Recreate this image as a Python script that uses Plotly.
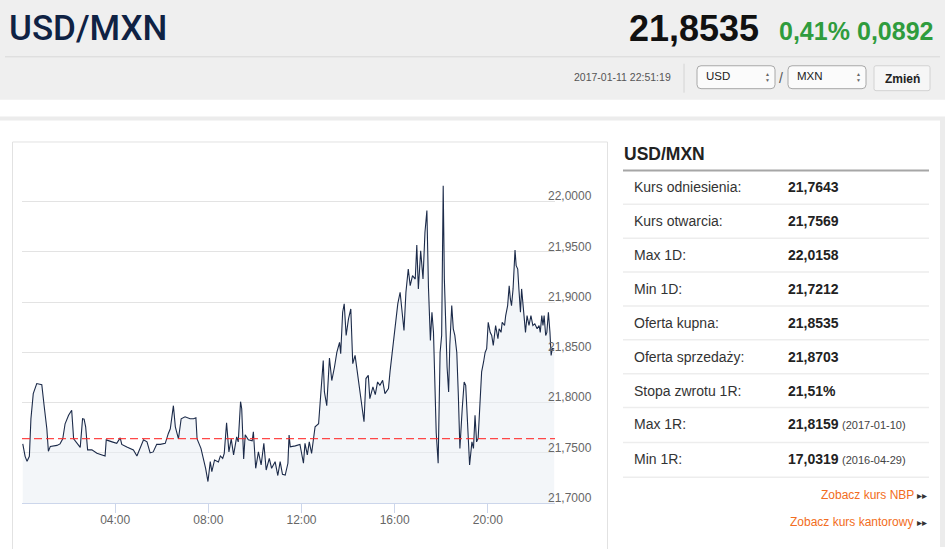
import plotly.graph_objects as go

W, H = 945, 549

# ---------------- data ----------------
times = ["00:02","00:08","00:13","00:19","00:23","00:29","00:38","00:51","00:57","01:04","01:08","01:13","01:30","01:38","01:45","01:51","02:00","02:08","02:13","02:22","02:30","02:36","02:40","02:44","02:49","03:00","03:13","03:34","03:37","03:52","04:04","04:13","04:17","04:30","04:47","04:56","05:04","05:13","05:22","05:30","05:38","05:47","05:56","06:09","06:17","06:22","06:30","06:35","06:43","06:50","07:00","07:13","07:22","07:28","07:31","07:41","07:47","07:53","07:59","08:05","08:09","08:16","08:26","08:31","08:37","08:41","08:47","08:53","08:59","09:05","09:13","09:17","09:23","09:26","09:31","09:35","09:43","09:53","09:56","10:02","10:09","10:16","10:23","10:29","10:37","10:43","10:52","10:59","11:05","11:11","11:18","11:25","11:28","11:31","11:44","11:56","12:05","12:09","12:15","12:20","12:26","12:31","12:35","12:44","12:50","12:56","12:59","13:05","13:12","13:18","13:25","13:31","13:38","13:41","13:46","13:50","13:55","14:01","14:07","14:12","14:18","14:24","14:31","14:41","14:46","14:52","14:56","15:04","15:10","15:16","15:22","15:29","15:35","15:44","15:48","15:53","15:56","16:03","16:08","16:14","16:18","16:24","16:29","16:35","16:40","16:46","16:53","16:57","17:01","17:07","17:13","17:18","17:23","17:27","17:32","17:36","17:40","17:44","17:47","17:52","17:57","18:01","18:05","18:08","18:11","18:15","18:19","18:22","18:27","18:31","18:35","18:40","18:44","18:48","18:54","18:59","19:03","19:08","19:13","19:19","19:23","19:27","19:31","19:35","19:40","19:44","19:49","19:53","19:57","20:01","20:06","20:10","20:14","20:20","20:26","20:29","20:34","20:37","20:43","20:46","20:51","20:55","20:58","21:01","21:05","21:10","21:13","21:17","21:20","21:24","21:27","21:31","21:34","21:37","21:41","21:46","21:51","21:56","22:01","22:07","22:12","22:15","22:19","22:22","22:25","22:29","22:32","22:36","22:40","22:43","22:46","22:51"]
rates = [21.7590,21.7466,21.7416,21.7466,21.7840,21.8090,21.8190,21.8180,21.7970,21.7740,21.7516,21.7565,21.7575,21.7590,21.7640,21.7790,21.7875,21.7925,21.7640,21.7590,21.7555,21.7840,21.7836,21.7760,21.7530,21.7530,21.7496,21.7470,21.7630,21.7610,21.7595,21.7650,21.7585,21.7560,21.7530,21.7470,21.7545,21.7630,21.7610,21.7500,21.7510,21.7585,21.7585,21.7595,21.7694,21.7740,21.7970,21.7760,21.7640,21.7840,21.7860,21.7840,21.7840,21.7850,21.7640,21.7545,21.7446,21.7347,21.7215,21.7413,21.7314,21.7430,21.7410,21.7470,21.7446,21.7496,21.7800,21.7510,21.7640,21.7480,21.7660,21.7610,21.8010,21.7940,21.7440,21.7680,21.7630,21.7620,21.7710,21.7347,21.7510,21.7380,21.7595,21.7330,21.7446,21.7347,21.7413,21.7275,21.7413,21.7287,21.7280,21.7397,21.7677,21.7560,21.7570,21.7585,21.7397,21.7595,21.7480,21.7610,21.7496,21.7630,21.7760,21.7790,21.8107,21.8420,21.8107,21.7970,21.8444,21.8220,21.8355,21.8500,21.8600,21.8487,21.8900,21.8983,21.8669,21.8834,21.8933,21.8388,21.8470,21.8306,21.8107,21.7810,21.8240,21.8272,21.8040,21.8157,21.8080,21.8206,21.8173,21.8222,21.8090,21.8140,21.8306,21.8487,21.8600,21.8800,21.8983,21.9099,21.8966,21.8718,21.9099,21.9330,21.9164,21.9264,21.9230,21.9568,21.9132,21.9511,21.9230,21.9694,21.9913,21.9150,21.8620,21.8900,21.8700,21.8107,21.7700,21.7397,21.8500,21.8669,22.0158,21.9230,21.8768,21.8355,21.8107,21.8570,21.8966,21.8735,21.8669,21.8500,21.8074,21.7545,21.7940,21.8206,21.8173,21.7840,21.7380,21.7610,21.7545,21.7875,21.7610,21.7645,21.8074,21.8306,21.8405,21.8500,21.8537,21.8800,21.8700,21.8669,21.8570,21.8768,21.8636,21.8735,21.8700,21.8800,21.8768,21.8867,21.8966,21.9164,21.9032,21.8966,21.9132,21.9520,21.9363,21.9330,21.9132,21.8900,21.9132,21.8966,21.8800,21.8700,21.8867,21.8768,21.8867,21.8768,21.8784,21.8735,21.8768,21.8700,21.8867,21.8768,21.8867,21.8669,21.8700,21.8900,21.8700,21.8470,21.8537,21.8535]

day = "2017-01-11"
reference_rate = 21.7643

x_tick_times = ["04:00", "08:00", "12:00", "16:00", "20:00"]
x_tick_text = ["04:00", "08:00", "12:00", "16:00", "20:00"]
y_tick_vals = [21.70, 21.75, 21.80, 21.85, 21.90, 21.95, 22.00, 22.05]
y_tick_text = ["21,7000", "21,7500", "21,8000", "21,8500", "21,9000", "21,9500", "22,0000", ""]

pair = "USD/MXN"
last_price = "21,8535"
change_pct = "0,41%"
change_abs = "0,0892"
timestamp = "2017-01-11 22:51:19"
base_cur = "USD"
quote_cur = "MXN"
button_text = "Zmień"

row_labels = ["Kurs odniesienia:", "Kurs otwarcia:", "Max 1D:", "Min 1D:", "Oferta kupna:",
              "Oferta sprzedaży:", "Stopa zwrotu 1R:", "Max 1R:", "Min 1R:"]
row_values = ["21,7643", "21,7569", "22,0158", "21,7212", "21,8535", "21,8703", "21,51%",
              "21,8159", "17,0319"]
row_notes = ["", "", "", "", "", "", "", "(2017-01-10)", "(2016-04-29)"]
links = ["Zobacz kurs NBP", "Zobacz kurs kantorowy"]

# ---------------- helpers ----------------
def px(x):
    return x / W

def py(y):
    return 1 - y / H

def rrect(x0, y0, x1, y1, r):
    rx, ry = r / W, r / H
    X0, X1 = px(x0), px(x1)
    Y0, Y1 = py(y0), py(y1)
    return (f"M{X0+rx},{Y0} L{X1-rx},{Y0} Q{X1},{Y0} {X1},{Y0-ry} "
            f"L{X1},{Y1+ry} Q{X1},{Y1} {X1-rx},{Y1} L{X0+rx},{Y1} "
            f"Q{X0},{Y1} {X0},{Y1+ry} L{X0},{Y0-ry} Q{X0},{Y0} {X0+rx},{Y0} Z")

SANS = "Liberation Sans, Arial, sans-serif"

xs = [f"{day} {t}" for t in times]

fig = go.Figure()
fig.add_trace(go.Scatter(
    x=xs, y=rates, mode="lines",
    line=dict(color="#1c2b4a", width=1.1),
    fill="tozeroy", fillcolor="rgba(234,238,244,0.55)",
    hoverinfo="skip", showlegend=False,
))
fig.add_trace(go.Scatter(
    x=[f"{day} 00:00", f"{day} 22:53"], y=[reference_rate, reference_rate],
    mode="lines", line=dict(color="rgba(255,40,40,0.85)", width=1.2, dash="8px,4px"),
    hoverinfo="skip", showlegend=False,
))

shapes = []
shapes.append(dict(type="rect", xref="paper", yref="paper", x0=0, x1=1, y0=py(100), y1=1,
                   fillcolor="#efefef", line=dict(width=0), layer="below"))
shapes.append(dict(type="line", xref="paper", yref="paper", x0=px(5), x1=px(940), y0=py(57), y1=py(57),
                   line=dict(color="#d8d8d8", width=1)))
shapes.append(dict(type="line", xref="paper", yref="paper", x0=px(684), x1=px(684), y0=py(64), y1=py(93),
                   line=dict(color="#d4d4d4", width=1)))
for x0, x1 in [(697, 775), (788, 866)]:
    shapes.append(dict(type="path", xref="paper", yref="paper", path=rrect(x0, 66, x1, 89, 4),
                       fillcolor="#fbfbfb", line=dict(color="#a8a8a8", width=1)))
shapes.append(dict(type="path", xref="paper", yref="paper", path=rrect(874, 66, 930, 91, 2),
                   fillcolor="#f6f6f6", line=dict(color="#d2d2d2", width=1)))
shapes.append(dict(type="rect", xref="paper", yref="paper", x0=0, x1=px(940), y0=py(121), y1=py(117),
                   fillcolor="#ececec", line=dict(width=0), layer="below"))
shapes.append(dict(type="rect", xref="paper", yref="paper", x0=px(940), x1=1, y0=0, y1=py(117),
                   fillcolor="#ececec", line=dict(width=0), layer="below"))
shapes.append(dict(type="rect", xref="paper", yref="paper", x0=px(12.5), x1=px(607.5), y0=py(560), y1=py(142.5),
                   fillcolor="rgba(0,0,0,0)", line=dict(color="#e2e2e2", width=1), layer="below"))
shapes.append(dict(type="line", xref="paper", yref="paper", x0=px(623), x1=px(929), y0=py(171), y1=py(171),
                   line=dict(color="#a6a6a6", width=2)))
row_sep = [205, 239, 273, 307, 341, 375, 409, 444, 479]
for yy in row_sep:
    shapes.append(dict(type="line", xref="paper", yref="paper", x0=px(623), x1=px(929), y0=py(yy), y1=py(yy),
                       line=dict(color="#ededed", width=1.5)))

ann = []
def text(x, y, s, size, color="#222", xanchor="left", bold=False, family=SANS, weight=None):
    f = dict(size=size, color=color, family=family)
    if weight is not None:
        f["weight"] = weight
    elif bold:
        f["weight"] = "bold"
    ann.append(dict(xref="paper", yref="paper", x=px(x), y=py(y), text=s, showarrow=False,
                    xanchor=xanchor, yanchor="middle", font=f))

text(7, 29, pair, 35, color="#0f2244", family="Roboto, sans-serif", weight=500)
text(761, 29, last_price, 36, color="#111", xanchor="right", bold=True)
text(777, 31, change_pct, 25, color="#2f9c3d", bold=True)
text(935, 31, change_abs, 25, color="#2f9c3d", xanchor="right", bold=True)
text(673, 77, timestamp, 10.5, color="#555", xanchor="right")
text(704, 76, base_cur, 11.5, color="#222")
text(795, 76, quote_cur, 11.5, color="#222")
for ax_ in [767, 858]:
    text(ax_, 74, "▲", 5, color="#666", xanchor="center")
    text(ax_, 80, "▼", 5, color="#666", xanchor="center")
text(781, 78, "/", 14, color="#555", xanchor="center")
text(902, 79, button_text, 12, color="#222", xanchor="center", bold=True)

text(622, 155, pair, 17.5, color="#222", bold=True)
row_y = [188, 222, 256, 290, 324, 358, 392, 426, 461]
for lab, val, note, yy in zip(row_labels, row_values, row_notes, row_y):
    text(632, yy, lab, 14, color="#333")
    text(786, yy, val, 14, color="#222", bold=True)
    if note:
        text(840, yy + 1, note, 11, color="#444")
for s, yy in zip(links, [497, 524]):
    ann.append(dict(xref="paper", yref="paper", x=px(929), y=py(yy), showarrow=False,
                    xanchor="right", yanchor="middle",
                    text=f"{s} <span style='color:#333;font-size:10px'>▸▸</span>",
                    font=dict(size=12, color="#f26d21", family=SANS)))

fig.update_layout(
    width=W, height=H, margin=dict(l=0, r=0, t=0, b=0),
    paper_bgcolor="white", plot_bgcolor="rgba(0,0,0,0)",
    shapes=shapes, annotations=ann, showlegend=False,
    xaxis=dict(
        domain=[px(22), px(555)], type="date",
        range=[f"{day} 00:00", f"{day} 22:53"],
        tickvals=[f"{day} {t}" for t in x_tick_times], ticktext=x_tick_text,
        ticks="outside", ticklen=9, tickcolor="#ccd6eb", tickwidth=1,
        ticklabelstandoff=-4,
        showline=True, linecolor="#ccd6eb", linewidth=1,
        showgrid=False, zeroline=False,
        tickfont=dict(size=12, color="#666", family=SANS),
        fixedrange=True,
    ),
    yaxis=dict(
        domain=[py(505), py(152)], range=[21.70, 22.05],
        side="right", tickvals=y_tick_vals, ticktext=y_tick_text,
        ticklabelposition="outside top", ticklabelstandoff=-8, ticklabelshift=3,
        showgrid=True, gridcolor="#e3e3e3", gridwidth=1,
        zeroline=False, showline=False, ticks="",
        tickfont=dict(size=12, color="#666", family=SANS),
        fixedrange=True,
    ),
)

fig.write_html("out.html", config={"displayModeBar": False},
               post_script="document.body.style.margin='0';document.body.style.overflow='hidden';")
